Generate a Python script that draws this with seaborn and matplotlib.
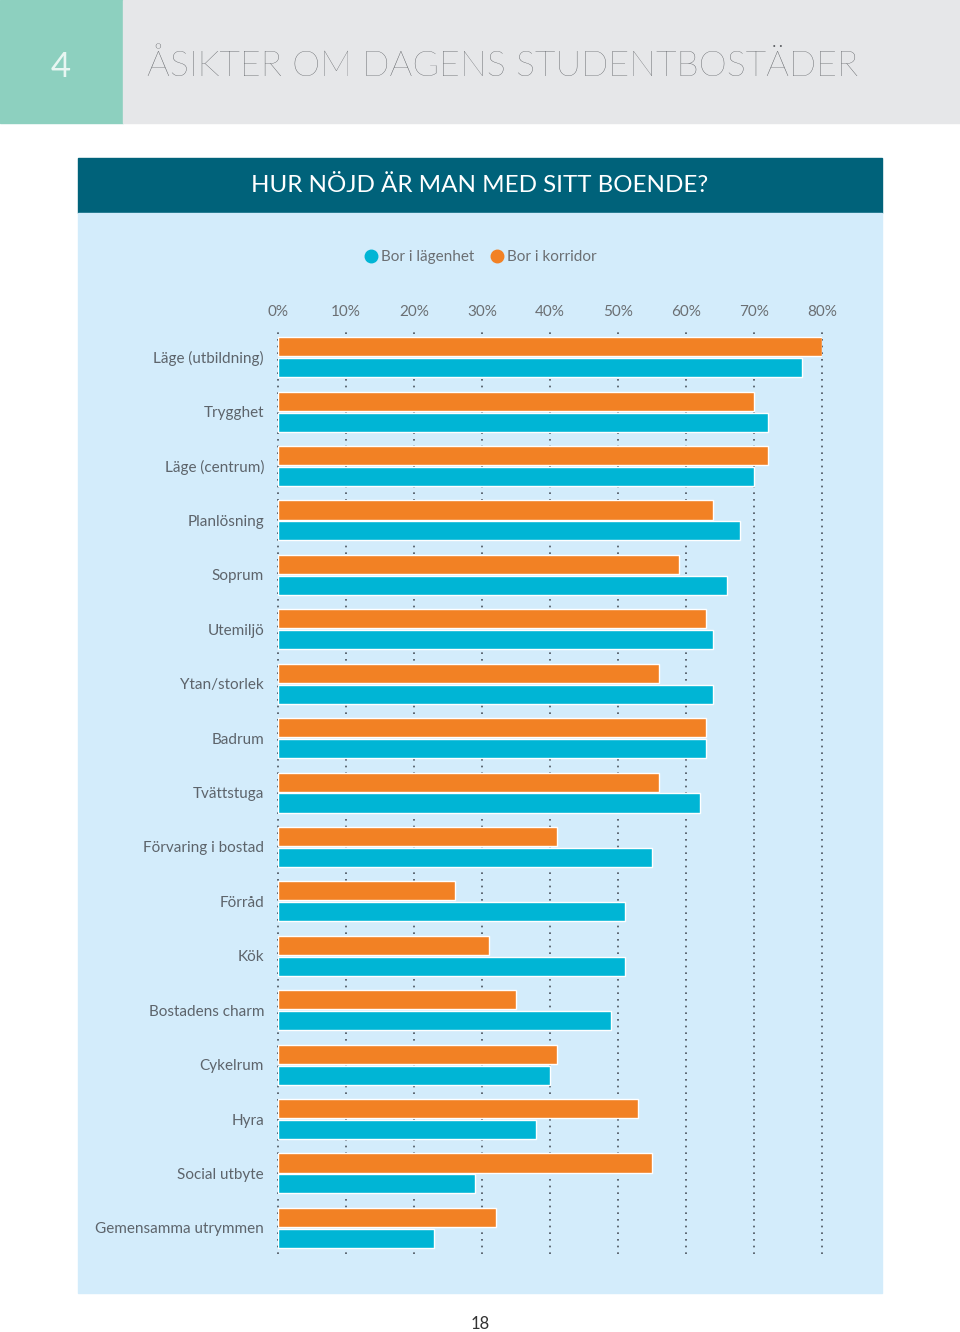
import matplotlib
matplotlib.use("Agg")
import matplotlib.pyplot as plt
from matplotlib.patches import Rectangle
from matplotlib.lines import Line2D
import seaborn as sns
import pandas as pd

categories = ["Läge (utbildning)", "Trygghet", "Läge (centrum)", "Planlösning", "Soprum",
              "Utemiljö", "Ytan/storlek", "Badrum", "Tvättstuga", "Förvaring i bostad",
              "Förråd", "Kök", "Bostadens charm", "Cykelrum", "Hyra", "Social utbyte",
              "Gemensamma utrymmen"]
korridor = [80, 70, 72, 64, 59, 63, 56, 63, 56, 41, 26, 31, 35, 41, 53, 55, 32]
lagenhet = [77, 72, 70, 68, 66, 64, 64, 63, 62, 55, 51, 51, 49, 40, 38, 29, 23]
series_names = ["Bor i lägenhet", "Bor i korridor"]
tick_values = [0, 10, 20, 30, 40, 50, 60, 70, 80]
tick_labels = ["0%", "10%", "20%", "30%", "40%", "50%", "60%", "70%", "80%"]

BLUE = "#00B5D5"
ORANGE = "#F28124"
PANEL = "#D3ECFB"
TEAL = "#00627A"
MINT = "#8DD0BF"
GREY_BG = "#E6E7E9"

df = pd.DataFrame({
    "Kategori": categories * 2,
    "Andel": korridor + lagenhet,
    "Grupp": [series_names[1]] * len(categories) + [series_names[0]] * len(categories),
})

sns.set_theme(style="white")
plt.rcParams["font.family"] = ["Lato", "DejaVu Sans"]

W, H = 960, 1332
fig = plt.figure(figsize=(W / 100, H / 100), dpi=100)
fig.patch.set_facecolor("white")

def px_rect(x0, y0, x1, y1, color):
    fig.patches.append(Rectangle((x0 / W, 1 - y1 / H), (x1 - x0) / W, (y1 - y0) / H,
                                 transform=fig.transFigure, color=color, zorder=-10))

px_rect(0, 0, 123, 123, MINT)
px_rect(123, 0, 960, 123, GREY_BG)
px_rect(78, 158, 882, 213, TEAL)
px_rect(78, 213, 882, 1293, PANEL)

fig.text(61 / W, 1 - 67 / H, "4", ha="center", va="center", fontsize=25,
         color="#e8f6f2", fontweight="normal")
fig.text(147 / W, 1 - 67 / H, "ÅSIKTER OM DAGENS STUDENTBOSTÄDER", ha="left", va="center",
         fontsize=25.8, color="#55585c", fontweight="light")
fig.text(480 / W, 1 - 185 / H, "HUR NÖJD ÄR MAN MED SITT BOENDE?", ha="center", va="center",
         fontsize=17.4, color="white", fontweight="normal")
fig.text(480 / W, 1 - 1324 / H, "18", ha="center", va="center", fontsize=12, color="#333333")

# axes area in pixels
ax_x0, ax_x1 = 278, 822
ax_y0, ax_y1 = 330, 1254
ax = fig.add_axes([ax_x0 / W, 1 - ax_y1 / H, (ax_x1 - ax_x0) / W, (ax_y1 - ax_y0) / H])
ax.set_zorder(5)
ax.set_facecolor("none")
ax.patch.set_alpha(0)

sns.barplot(data=df, y="Kategori", x="Andel", hue="Grupp",
            hue_order=[series_names[1], series_names[0]],
            palette=[ORANGE, BLUE], order=categories, orient="h",
            width=0.77, gap=0.09, saturation=1, ax=ax, legend=False, zorder=3)

ax.set_xlim(0, 80)
ax.set_ylim(len(categories) - 0.52, -0.5)
for v in tick_values:
    ax.axvline(v, color="#4a525c", linestyle=(0, (1, 3.0)), linewidth=1.2, zorder=1,
               clip_on=False)
for s in ax.spines.values():
    s.set_visible(False)

ax.xaxis.tick_top()
ax.set_xticks(tick_values)
ax.set_xticklabels(tick_labels)
ax.tick_params(axis="x", length=0, pad=8, labelsize=11, labelcolor="#6b6f73")
ax.tick_params(axis="y", length=0, pad=10, labelsize=11, labelcolor="#5d646b")
ax.set_xlabel("")
ax.set_ylabel("")
ax.grid(False)

handles = [Line2D([0], [0], marker="o", color="none", markerfacecolor=BLUE,
                  markeredgecolor=BLUE, markersize=9),
           Line2D([0], [0], marker="o", color="none", markerfacecolor=ORANGE,
                  markeredgecolor=ORANGE, markersize=9)]
fig.legend(handles, series_names, loc="center", bbox_to_anchor=(480 / W, 1 - 257 / H),
           ncol=2, frameon=False, fontsize=11, labelcolor="#6b6f73",
           handletextpad=0.15, columnspacing=1.0, handlelength=1.0)

fig.savefig("out.png", dpi=100)
